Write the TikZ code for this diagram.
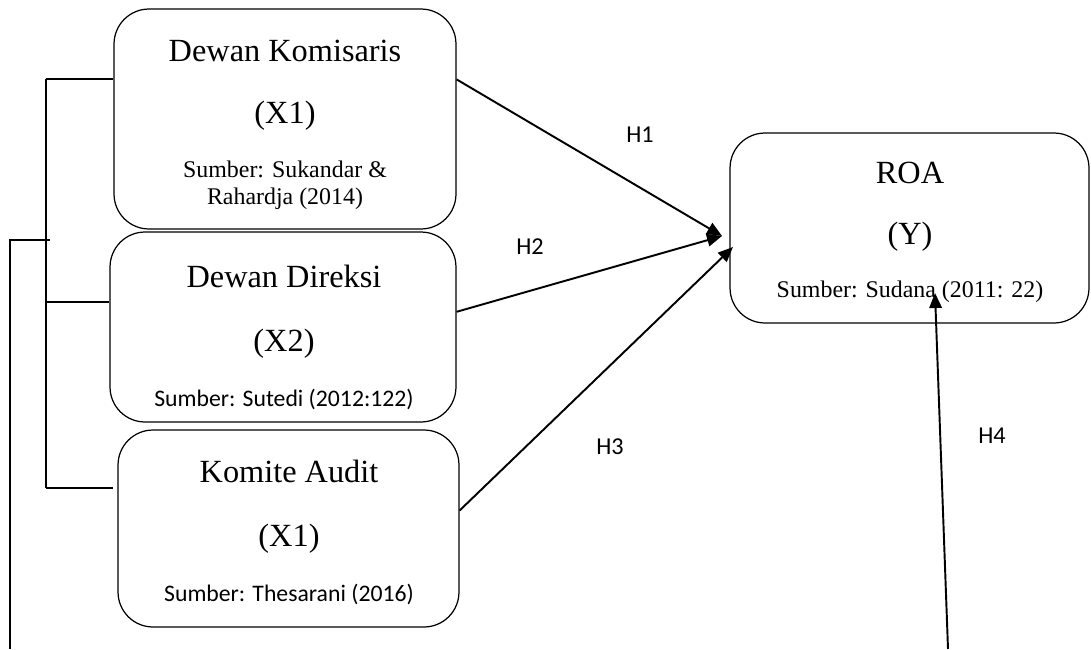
\documentclass[tikz,border=0pt]{standalone}
\usepackage{fontspec}
\setmainfont{Liberation Serif}
\setsansfont{Carlito}
\usepackage{tikz}
\usetikzlibrary{arrows.meta,positioning,calc}

\begin{document}
\begin{tikzpicture}[
  x=0.02cm, y=-0.02cm,
  varbox/.style={draw, rounded corners=0.7cm, line width=0.7pt, inner sep=0pt},
  ttl/.style={font=\fontsize{18.4}{21}\selectfont},
  src/.style={font=\fontsize{13.6}{15.5}\selectfont, align=center},
  srcsf/.style={font=\sffamily\fontsize{13.5}{15.5}\selectfont},
  hyp/.style={font=\sffamily\fontsize{13.8}{15.5}\selectfont},
  arr/.style={line width=1.1pt, -{Triangle[length=0.3cm, width=0.25cm]}},
  brk/.style={line width=1pt},
]
\useasboundingbox (0,0) rectangle (1091,649);
% variable boxes
\node[varbox, minimum width=6.84cm, minimum height=4.4cm] (kom) at (285,119) {};
\node[varbox, minimum width=6.92cm, minimum height=3.8cm] (dir) at (283,327) {};
\node[varbox, minimum width=6.82cm, minimum height=3.94cm] (aud) at (288.5,528.5) {};
\node[varbox, minimum width=7.18cm, minimum height=3.8cm] (roa) at (909.5,228) {};
\node[ttl] (komT) at (285,51) {Dewan Komisaris};
\node[ttl] (komX) at (285,116) {(X1)};
\node[src] (komS) at (285,185) {Sumber: Sukandar \&\\Rahardja (2014)};
\node[ttl] (dirT) at (284,276) {Dewan Direksi};
\node[ttl] (dirX) at (284,344) {(X2)};
\node[srcsf] (dirS) at (284,399) {Sumber: Sutedi (2012:122)};
\node[ttl] (audT) at (289,471) {Komite Audit};
\node[ttl] (audX) at (289,539) {(X1)};
\node[srcsf] (audS) at (289,594) {Sumber: Thesarani (2016)};
\node[ttl] (roaT) at (910,173) {ROA};
\node[ttl] (roaY) at (910,237) {(Y)};
\node[src] (roaS) at (910,292) {Sumber: Sudana (2011: 22)};
% hypotheses
\coordinate (in1) at (722,236);
\coordinate (in3) at (733,247);
\coordinate (h4s) at (948,649);
\coordinate (in4) at (935,293);
\draw[arr] (kom.13) -- (in1);
\draw[arr] (dir.5) -- (in1);
\draw[arr] (aud.6) -- (in3);
\draw[arr] (h4s) -- (in4);
\node[hyp] (h1) at (640,135) {H1};
\node[hyp] (h2) at (530,247) {H2};
\node[hyp] (h3) at (610,447) {H3};
\node[hyp] (h4) at (992,436) {H4};
% bracket on the left
\coordinate (b1) at (46,79);
\coordinate (b2) at (46,302);
\coordinate (b3) at (46,488);
\coordinate (o1) at (10,649);
\coordinate (o2) at (10,240);
\draw[brk] (b1) -- (b3);
\draw[brk] (b1) -- (b1 -| kom.west);
\draw[brk] (b2) -- (b2 -| dir.west);
\draw[brk] (b3) -- (113,488);
\draw[brk] (o1) -- (o2) -- (50,240);
\end{tikzpicture}
\end{document}
